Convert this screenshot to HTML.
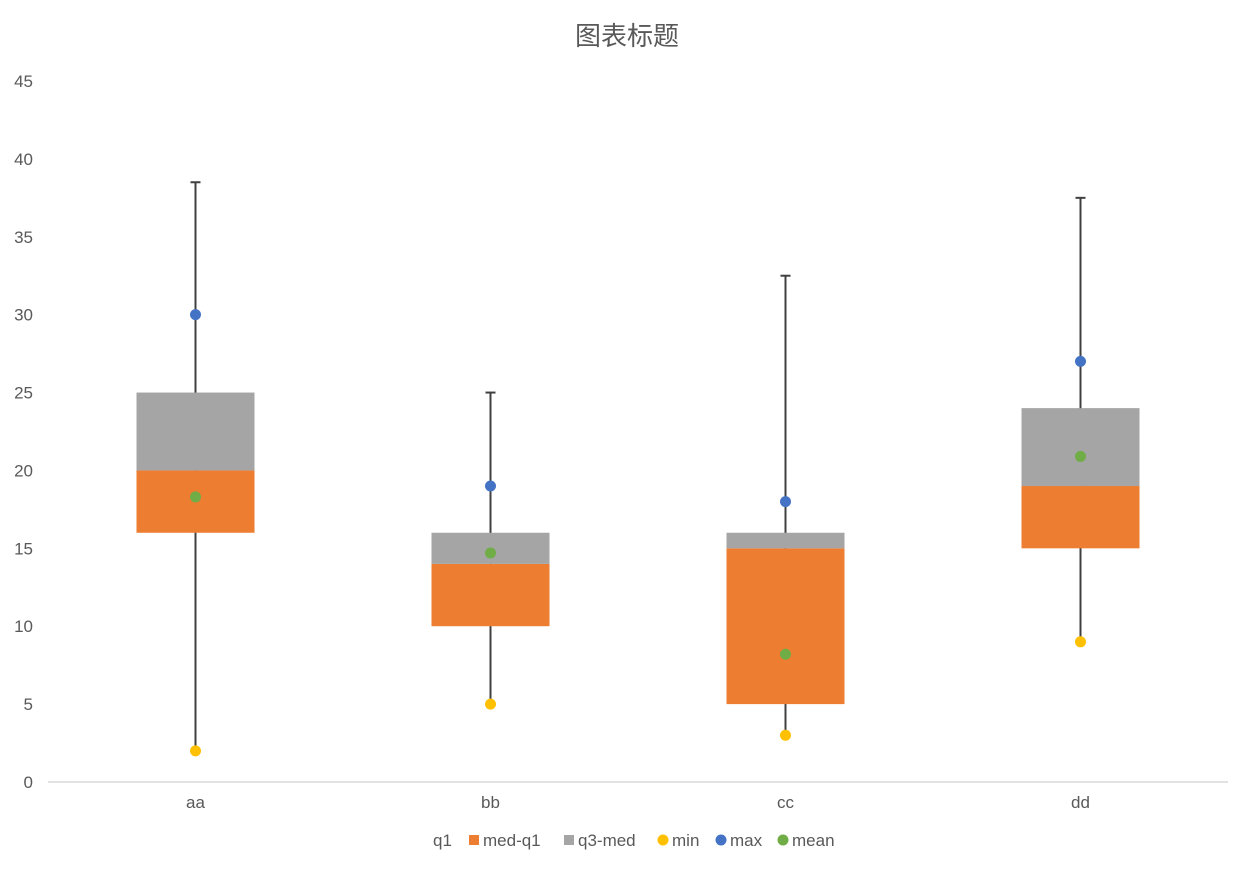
<!DOCTYPE html>
<html><head><meta charset="utf-8"><style>
body{margin:0;background:#fff;}
svg{display:block;font-family:"Liberation Sans","Noto Sans CJK SC",sans-serif;}
</style></head><body>
<svg id="chart" width="1251" height="870">
<text x="627" y="45" text-anchor="middle" font-size="26" fill="#595959">图表标题</text>
<g id="axes"></g><g id="marks"></g>
<g font-size="17" fill="#595959">
<text x="433" y="846">q1</text>
<rect x="469" y="835" width="10" height="10" fill="#ED7D31"/>
<text x="483" y="846">med-q1</text>
<rect x="564" y="835" width="10" height="10" fill="#A5A5A5"/>
<text x="578" y="846">q3-med</text>
<circle cx="663" cy="840" r="5.5" fill="#FFC000"/>
<text x="672" y="846">min</text>
<circle cx="721" cy="840" r="5.5" fill="#4472C4"/>
<text x="730" y="846">max</text>
<circle cx="783" cy="840" r="5.5" fill="#70AD47"/>
<text x="792" y="846">mean</text>
</g>
</svg>
<script>
const categories=["aa","bb","cc","dd"];
const q1=[16,10,5,15];
const med=[20,14,15,19];
const q3=[25,16,16,24];
const minV=[2,5,3,9];
const maxV=[30,19,18,27];
const meanV=[18.3,14.7,8.2,20.9];
const whiskerTop=[38.5,25,32.5,37.5];
const yTicks=[0,5,10,15,20,25,30,35,40,45];
const NS="http://www.w3.org/2000/svg";
const x0=48,x1=1228,yb=782,yt=81;
const band=(x1-x0)/categories.length;
const y=v=>yb-(v/45)*(yb-yt);
const xc=i=>x0+band*(i+0.5);
function mk(p,tag,a){const e=document.createElementNS(NS,tag);for(const k in a)e.setAttribute(k,a[k]);p.appendChild(e);return e;}
const axes=document.getElementById('axes'),marks=document.getElementById('marks');
yTicks.forEach(t=>{const e=mk(axes,'text',{x:33,y:y(t)+6,'text-anchor':'end','font-size':17,fill:'#595959'});e.textContent=t;

});
const ax=mk(axes,'line',{x1:x0,x2:x1,y1:yb,y2:yb,stroke:'#D9D9D9','stroke-width':1.5});


categories.forEach((c,i)=>{
const cx=xc(i),w=118;
const t=mk(axes,'text',{x:cx,y:808,'text-anchor':'middle','font-size':17,fill:'#595959'});t.textContent=c;


const wl=mk(marks,'line',{x1:cx,x2:cx,y1:y(whiskerTop[i]),y2:y(minV[i]),stroke:'#404040','stroke-width':2});


const cap=mk(marks,'line',{x1:cx-5,x2:cx+5,y1:y(whiskerTop[i]),y2:y(whiskerTop[i]),stroke:'#404040','stroke-width':2});


const b1=mk(marks,'rect',{x:cx-w/2,width:w,y:y(med[i]),height:y(q1[i])-y(med[i]),fill:'#ED7D31'});


const b2=mk(marks,'rect',{x:cx-w/2,width:w,y:y(q3[i]),height:y(med[i])-y(q3[i]),fill:'#A5A5A5'});


[[minV,'#FFC000','min-point'],[maxV,'#4472C4','max-point'],[meanV,'#70AD47','mean-point']].forEach(([arr,col,n])=>{
const p=mk(marks,'circle',{cx:cx,cy:y(arr[i]),r:5.5,fill:col});

});
});
</script>
</body></html>
